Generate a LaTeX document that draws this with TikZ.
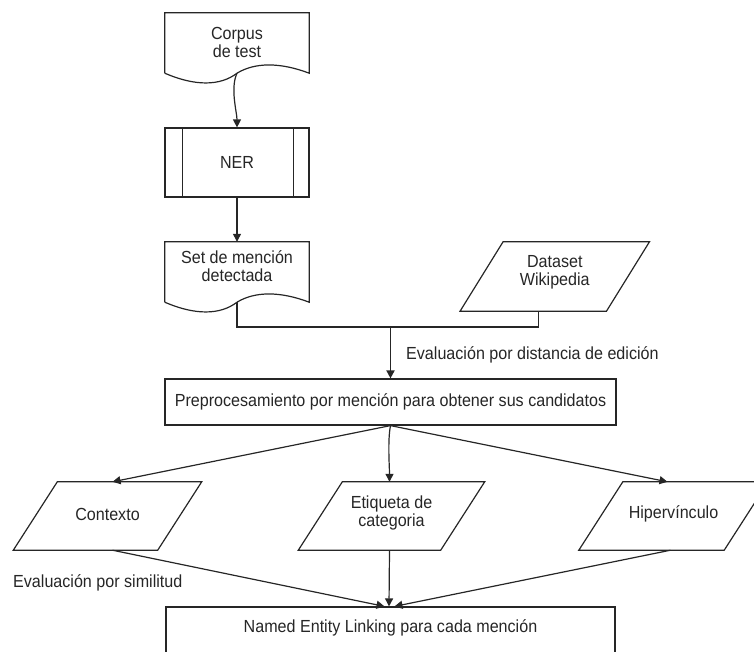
\documentclass[tikz,border=0pt]{standalone}
\usepackage{fontspec}
\setmainfont{Liberation Sans}[FakeStretch=0.92]
\usetikzlibrary{arrows.meta,calc}
\begin{document}
\begin{tikzpicture}[x=1pt,y=-1pt,
  ln/.style={draw=black!85, line width=1.2pt},
  arr/.style={ln, -{Triangle[length=8pt,width=8pt]}},
  txt/.style={font=\fontsize{17.5}{18}\selectfont, text=black!85, align=center, inner sep=0pt},
  shp/.style={draw=none, inner sep=0pt, minimum width=144pt},
  boxx/.style={ln, inner sep=0pt, txt}
]
\useasboundingbox (0,0) rectangle (754,651);
\clip (0,0) rectangle (754,651);

% Corpus de test (document)
\node[shp, minimum height=60pt] (corpus) at (237,43) {};
\node[txt] (corpusT) at (237,42) {Corpus\\de test};
\draw[ln] (corpus.south west) -- (corpus.north west) -- (corpus.north east) -- (corpus.south east)
  .. controls +(-29,-11) and +(18,-11) .. (corpus.south)
  .. controls +(-17,13) and +(30,13) .. (corpus.south west);

% NER (predefined process)
\node[boxx, minimum width=144pt, minimum height=69pt] (ner) at (237,162.5) {NER};
\draw[ln] ([xshift=18pt]ner.north west) -- ([xshift=18pt]ner.south west);
\draw[ln] ([xshift=-16pt]ner.north east) -- ([xshift=-16pt]ner.south east);

% Set de mención detectada (document)
\node[shp, minimum height=60pt] (set) at (237,272) {};
\node[txt] (setT) at (237,266) {Set de mención\\detectada};
\draw[ln] (set.south west) -- (set.north west) -- (set.north east) -- (set.south east)
  .. controls +(-29,-11) and +(18,-11) .. (set.south)
  .. controls +(-17,13) and +(30,13) .. (set.south west);

% Dataset Wikipedia (parallelogram)
\node[shp, minimum width=146pt, minimum height=69pt] (data) at (554.75,276.5) {};
\node[txt] (dataT) at (554.75,272) {Dataset\\Wikipedia};
\draw[ln] ([xshift=21.5pt]data.north west) -- ([xshift=21.5pt]data.north east)
  -- ([xshift=-21.5pt]data.south east) -- ([xshift=-21.5pt]data.south west) -- cycle;

% Join
\coordinate (j) at (390.5,327);
\draw[ln] (set.south) |- (j) -| ([xshift=-16pt]data.south);

% Preprocesamiento
\node[boxx, minimum width=451pt, minimum height=46pt] (pre) at (390.5,402)
  {Preprocesamiento por mención para obtener sus candidatos};
\draw[arr, line width=1.8pt] (j) -- (pre.north);
\node[txt, anchor=west] (lab1) at (406,355) {Evaluación por distancia de edición};

% Parallelograms
\node[shp, minimum width=144pt, minimum height=68pt] (ctx) at (107.5,516) {};
\node[txt] (ctxT) at (107.5,514) {Contexto};
\draw[ln] ([xshift=22pt]ctx.north west) -- ([xshift=22pt]ctx.north east)
  -- ([xshift=-22pt]ctx.south east) -- ([xshift=-22pt]ctx.south west) -- cycle;

\node[shp, minimum width=142pt, minimum height=68pt] (eti) at (391.5,516) {};
\node[txt] (etiT) at (391.5,513) {Etiqueta de\\categoria};
\draw[ln] ([xshift=22pt]eti.north west) -- ([xshift=22pt]eti.north east)
  -- ([xshift=-22pt]eti.south east) -- ([xshift=-22pt]eti.south west) -- cycle;

\node[shp, minimum width=145pt, minimum height=68pt] (hip) at (673.5,516) {};
\node[txt] (hipT) at (673.5,514) {Hipervínculo};
\draw[ln] ([xshift=22pt]hip.north west) -- ([xshift=22pt]hip.north east)
  -- ([xshift=-22pt]hip.south east) -- ([xshift=-22pt]hip.south west) -- cycle;

% Named Entity Linking (cut at the bottom)
\node[shp, ln, minimum width=449pt, minimum height=60pt] (nel) at (390.5,637) {};
\node[txt] (nelT) at (390.5,628) {Named Entity Linking para cada mención};
\node[txt, anchor=west] (lab2) at (13,583) {Evaluación por similitud};

% Connectors
\draw[arr] (corpus.south) .. controls +(-7,15) and +(0,-15) .. (ner.north);
\draw[arr] (ner.south) -- (set.north);
\draw[arr] (pre.south) -- ([xshift=5pt]ctx.north);
\draw[arr] (pre.south) .. controls +(-3,15) and +(0,-15) .. ([xshift=-2pt]eti.north);
\draw[arr] (pre.south) -- ([xshift=-6pt]hip.north);
\draw[arr] ([xshift=5pt]ctx.south) -- ([xshift=-6pt]nel.north);
\draw[arr] ([xshift=-2pt]eti.south) -- ([xshift=-1.5pt]nel.north);
\draw[arr] ([xshift=-3pt]hip.south) -- ([xshift=4pt]nel.north);
\end{tikzpicture}
\end{document}
